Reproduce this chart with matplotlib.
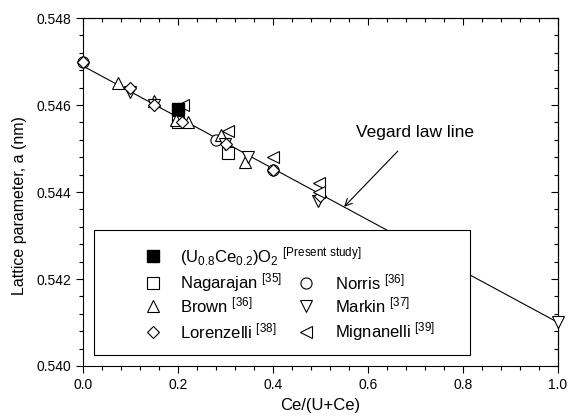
import matplotlib.pyplot as plt
from matplotlib.patches import Rectangle
from matplotlib.ticker import MultipleLocator

plt.rcParams['font.family'] = ['Liberation Sans', 'DejaVu Sans']
plt.rcParams['mathtext.fontset'] = 'custom'
plt.rcParams['mathtext.rm'] = 'Liberation Sans'
plt.rcParams['mathtext.it'] = 'Liberation Sans:italic'

# data
present_x = [0.2]
present_y = [0.5459]
nagarajan_x = [0.2, 0.305]
nagarajan_y = [0.5456, 0.5449]
norris_x = [0.0, 0.28, 0.40]
norris_y = [0.5470, 0.5452, 0.5445]
brown_x = [0.075, 0.15, 0.197, 0.222, 0.292, 0.341]
brown_y = [0.5465, 0.5461, 0.54565, 0.5456, 0.5453, 0.5447]
markin_x = [0.1, 0.15, 0.30, 0.348, 0.495, 1.0]
markin_y = [0.5463, 0.5460, 0.5451, 0.5448, 0.5438, 0.5410]
lorenzelli_x = [0.0, 0.1, 0.15, 0.208, 0.302, 0.40, 0.5]
lorenzelli_y = [0.5470, 0.5464, 0.5460, 0.5456, 0.5451, 0.5445, 0.5439]
mignanelli_x = [0.21, 0.306, 0.40, 0.497, 0.498]
mignanelli_y = [0.5460, 0.5454, 0.5448, 0.5442, 0.5440]
vegard_x = [0.0, 1.0]
vegard_y = [0.5469, 0.5410]

fig = plt.figure(figsize=(5.68, 4.19), dpi=100)
ax = fig.add_axes([0.1456, 0.1265, 0.8368, 0.8305])

ax.plot(vegard_x, vegard_y, color='black', lw=0.8, zorder=1)

ms = 8
mew = 0.8
series = [
    (nagarajan_x, nagarajan_y, 's'),
    (norris_x, norris_y, 'o'),
    (brown_x, brown_y, '^'),
    (markin_x, markin_y, 'v'),
    (lorenzelli_x, lorenzelli_y, 'D'),
    (mignanelli_x, mignanelli_y, '<'),
]
for xs, ys, m in series:
    size = ms * 0.8 if m == 'D' else ms
    ax.plot(xs, ys, linestyle='none', marker=m, ms=size, mfc='white',
            mec='black', mew=mew, zorder=3, clip_on=False)
ax.plot(present_x, present_y, linestyle='none', marker='s', ms=ms,
        color='black', zorder=4)

ax.set_xlim(0, 1.0)
ax.set_ylim(0.540, 0.548)
ax.xaxis.set_major_locator(MultipleLocator(0.2))
ax.xaxis.set_minor_locator(MultipleLocator(0.04))
ax.yaxis.set_major_locator(MultipleLocator(0.002))
ax.yaxis.set_minor_locator(MultipleLocator(0.0004))
ax.xaxis.set_major_formatter(plt.FormatStrFormatter('%.1f'))
ax.yaxis.set_major_formatter(plt.FormatStrFormatter('%.3f'))
ax.tick_params(which='both', direction='out', labelsize=10, width=0.8)
ax.tick_params(which='major', length=5)
ax.tick_params(which='minor', length=3)

# mirrored ticks pointing inward on top and right
top = ax.secondary_xaxis('top')
top.xaxis.set_major_locator(MultipleLocator(0.2))
top.xaxis.set_minor_locator(MultipleLocator(0.04))
top.tick_params(which='both', direction='in', labeltop=False, width=0.8)
top.tick_params(which='major', length=5)
top.tick_params(which='minor', length=3)
right = ax.secondary_yaxis('right')
right.yaxis.set_major_locator(MultipleLocator(0.002))
right.yaxis.set_minor_locator(MultipleLocator(0.0004))
right.tick_params(which='both', direction='in', labelright=False, width=0.8)
right.tick_params(which='major', length=5)
right.tick_params(which='minor', length=3)

ax.set_xlabel('Ce/(U+Ce)', fontsize=12, va='center')
ax.set_ylabel('Lattice parameter, a (nm)', fontsize=11.5)
ax.xaxis.set_label_coords(0.5, -0.113)
ax.yaxis.set_label_coords(-0.117, 0.46)

ax.annotate('Vegard law line', xy=(0.55, 0.54366), xytext=(0.70, 0.54536),
            ha='center', va='center', fontsize=12.5,
            arrowprops=dict(arrowstyle='->', color='black', lw=0.8,
                            shrinkA=8, shrinkB=0))

# hand-drawn legend box
ax.add_patch(Rectangle((0.024, 0.032), 0.791, 0.359, transform=ax.transAxes,
                       facecolor='white', edgecolor='black', lw=0.8, zorder=5))
leg_rows = [0.315, 0.239, 0.173, 0.098]
col1_m, col1_t = 0.148, 0.204
col2_m, col2_t = 0.47, 0.53
fs = 12
ax.plot([col1_m], [leg_rows[0]], marker='s', ms=ms, color='black',
        transform=ax.transAxes, zorder=6)
ax.text(col1_t, leg_rows[0],
        r'(U$_{\mathrm{0.8}}$Ce$_{\mathrm{0.2}}$)O$_{\mathrm{2}}$ $^{\mathrm{[Present\ study]}}$',
        transform=ax.transAxes, fontsize=fs, va='center', zorder=6)
legend_items = [
    (col1_m, col1_t, leg_rows[1], 's', r'Nagarajan $^{\mathrm{[35]}}$'),
    (col2_m, col2_t, leg_rows[1], 'o', r'Norris $^{\mathrm{[36]}}$'),
    (col1_m, col1_t, leg_rows[2], '^', r'Brown $^{\mathrm{[36]}}$'),
    (col2_m, col2_t, leg_rows[2], 'v', r'Markin $^{\mathrm{[37]}}$'),
    (col1_m, col1_t, leg_rows[3], 'D', r'Lorenzelli $^{\mathrm{[38]}}$'),
    (col2_m, col2_t, leg_rows[3], '<', r'Mignanelli $^{\mathrm{[39]}}$'),
]
for mx, tx, y, m, label in legend_items:
    size = ms * 0.8 if m == 'D' else ms
    ax.plot([mx], [y], marker=m, ms=size, mfc='white', mec='black', mew=mew,
            transform=ax.transAxes, zorder=6)
    ax.text(tx, y, label, transform=ax.transAxes, fontsize=fs, va='center',
            zorder=6)

fig.savefig('out.png', dpi=100)
